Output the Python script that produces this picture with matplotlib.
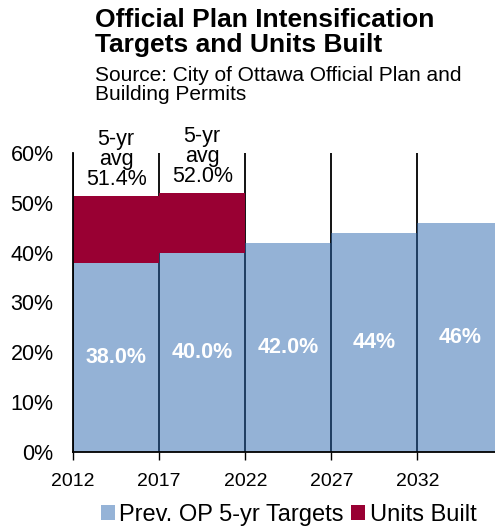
import matplotlib
matplotlib.use("Agg")
import matplotlib.pyplot as plt
from matplotlib.patches import Patch
from matplotlib.ticker import FuncFormatter

plt.rcParams["font.family"] = ["Liberation Sans", "DejaVu Sans"]

# --- data ---
start_years = [2012, 2017, 2022, 2027, 2032]
targets = [38.0, 40.0, 42.0, 44.0, 46.0]
target_labels = ["38.0%", "40.0%", "42.0%", "44%", "46%"]
built_years = [2012, 2017]
units_built = [51.4, 52.0]
built_labels = ["5-yr\navg\n51.4%", "5-yr\navg\n52.0%"]

BLUE_SOLID = "#95b3d7"
BLUE_BASE = (43 / 255, 103 / 255, 175 / 255)   # drawn at alpha .5 -> #95b3d7 on white
RED = "#990033"

fig = plt.figure(figsize=(4.95, 5.29), dpi=100)
ax = fig.add_axes([0.1475, 0.1456, 0.8525, 0.5654])

# vertical grid at the period boundaries (shows through the translucent bars)
for yr in start_years:
    ax.axvline(yr, color="black", lw=1.3, zorder=0)

ax.bar(start_years, targets, width=5, align="edge", color=BLUE_BASE,
       alpha=0.5, linewidth=0, zorder=1)
extra = [b - targets[start_years.index(y)] for y, b in zip(built_years, units_built)]
bottoms = [targets[start_years.index(y)] for y in built_years]
ax.bar(built_years, extra, width=5, bottom=bottoms, align="edge", color=RED,
       linewidth=0, zorder=2)

for yr, v, lab in zip(start_years, targets, target_labels):
    ax.text(yr + 2.5, v / 2, lab, ha="center", va="center", color="white",
            fontsize=15.5, fontweight="bold", zorder=4)
for yr, v, lab in zip(built_years, units_built, built_labels):
    ax.annotate(lab, (yr + 2.5, v), xytext=(0, 4), textcoords="offset points",
                ha="center", va="bottom", fontsize=15.5, linespacing=0.95,
                zorder=4)

ax.set_xlim(2012, 2036.5)
ax.set_ylim(0, 60)
ax.set_xticks(start_years)
ax.set_yticks(range(0, 61, 10))
ax.yaxis.set_major_formatter(FuncFormatter(lambda v, p: f"{v:.0f}%"))
ax.tick_params(axis="y", length=0, pad=14, labelsize=15.5)
ax.tick_params(axis="x", direction="out", length=6, width=1, pad=9,
               labelsize=14)
for s in ["top", "right"]:
    ax.spines[s].set_visible(False)
ax.spines["left"].set_linewidth(1.3)
ax.spines["bottom"].set_linewidth(1.3)

fig.text(0.192, 0.985, "Official Plan Intensification\nTargets and Units Built",
         ha="left", va="top", fontsize=19, fontweight="bold", linespacing=1.05)
fig.text(0.192, 0.875, "Source: City of Ottawa Official Plan and\nBuilding Permits",
         ha="left", va="top", fontsize=15, linespacing=1.0)

handles = [Patch(facecolor=BLUE_SOLID, label="Prev. OP 5-yr Targets"),
           Patch(facecolor=RED, label="Units Built")]
fig.legend(handles=handles, loc="center", bbox_to_anchor=(0.583, 0.026),
           ncol=2, frameon=False, fontsize=17, handlelength=0.6,
           handleheight=0.6, handletextpad=0.2, columnspacing=0.3,
           borderaxespad=0)

fig.savefig("out.png", dpi=100)
